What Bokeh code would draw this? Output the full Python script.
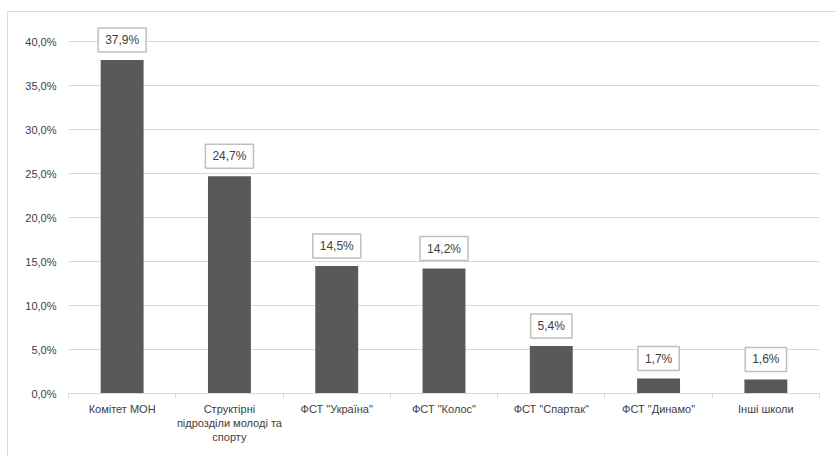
from bokeh.plotting import figure
from bokeh.models import ColumnDataSource, Range1d, FixedTicker, Label
from bokeh.embed import file_html
from bokeh.resources import INLINE

categories = ["Комітет МОН", "Структірні\nпідрозділи молоді та\nспорту", "ФСТ \"Україна\"",
              "ФСТ \"Колос\"", "ФСТ \"Спартак\"", "ФСТ \"Динамо\"", "Інші школи"]
values = [37.9, 24.7, 14.5, 14.2, 5.4, 1.7, 1.6]
y_ticks = [0, 5, 10, 15, 20, 25, 30, 35, 40]

FONT = "Liberation Sans"
FS = "11px"
TXT = "#404040"

n = len(categories)
centers = [i + 0.5 for i in range(n)]
labels = [("%.1f" % v).replace(".", ",") + "%" for v in values]

src = ColumnDataSource(dict(x=centers, top=values, lab=labels))

p = figure(width=828, height=445, output_backend="svg", toolbar_location=None,
           x_range=Range1d(0, n), y_range=Range1d(0, 43.2),
           min_border_left=60, min_border_right=17, min_border_top=1, min_border_bottom=64)
p.outline_line_color = None
p.background_fill_color = "white"
p.border_fill_color = "white"
p.styles = {"margin-left": "7px", "margin-top": "11px",
            "border-left": "1px solid #d9d9d9", "border-top": "1px solid #d9d9d9"}

p.vbar(x="x", top="top", width=0.4, bottom=0, source=src, fill_color="#595959", line_color=None)

# y axis
p.yaxis.ticker = FixedTicker(ticks=y_ticks)
p.yaxis.major_label_overrides = {t: ("%.1f" % t).replace(".", ",") + "%" for t in y_ticks}
p.yaxis.axis_line_color = None
p.yaxis.major_tick_line_color = None
p.yaxis.minor_tick_line_color = None
p.yaxis.major_tick_out = 0
p.yaxis.major_label_standoff = 12
p.yaxis.major_label_text_font = FONT
p.yaxis.major_label_text_font_size = FS
p.yaxis.major_label_text_color = TXT

# x axis
p.xaxis.ticker = FixedTicker(ticks=centers, minor_ticks=list(range(n + 1)))
p.xaxis.major_label_overrides = {c: lab for c, lab in zip(centers, categories)}
p.xaxis.axis_line_color = "#d9d9d9"
p.xaxis.major_tick_line_color = None
p.xaxis.major_tick_out = 0
p.xaxis.major_tick_in = 0
p.xaxis.minor_tick_line_color = "#d9d9d9"
p.xaxis.minor_tick_out = 5
p.xaxis.minor_tick_in = 0
p.xaxis.major_label_standoff = 4
p.xaxis.major_label_text_font = FONT
p.xaxis.major_label_text_font_size = FS
p.xaxis.major_label_text_color = TXT
p.xaxis.major_label_orientation = "horizontal"

p.xgrid.grid_line_color = None
p.ygrid.ticker = FixedTicker(ticks=y_ticks)
p.ygrid.grid_line_color = "#d9d9d9"

for c, v, lab in zip(centers, values, labels):
    lb = Label(x=c, y=v, text=lab, text_align="center", text_baseline="bottom",
               y_offset=8, text_font=FONT, text_font_size="12px", text_color=TXT,
               background_fill_color="white", border_line_color="#bfbfbf",
               border_line_width=1.5)
    try:
        lb.padding = (7, 5)
    except Exception:
        pass
    p.add_layout(lb)

open("out.html", "w").write(file_html(p, INLINE))
